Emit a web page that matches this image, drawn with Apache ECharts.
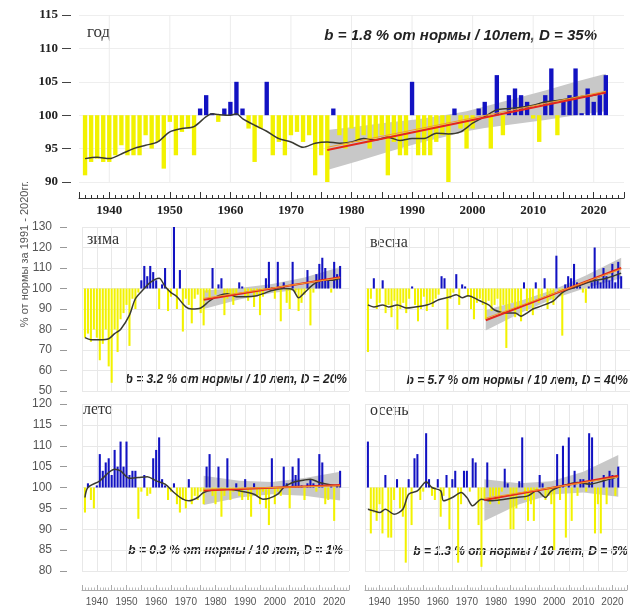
<!DOCTYPE html>
<html><head><meta charset="utf-8">
<script src="https://cdn.jsdelivr.net/npm/echarts@6/dist/echarts.min.js"></script>
<style>html,body{margin:0;padding:0;background:#fff}#c{width:630px;height:612px}</style>
</head><body><div id="c"></div>
<script>
// ---------------- DATA ----------------
const firstYear = 1936, lastYear = 2022;
const years = [];
for (let y = firstYear; y <= lastYear; y++) years.push(y);

// annual precipitation, % of 1991-2020 norm
const annual = [91,93,93.5,93,93,94,95.5,94,94,94,
 97,95,96,92,99,94,97.5,98,94,101,
 103,100.3,99,101,102,105,101,98,93,98,
 105,94,96,94,97,97.5,96,97,91,94,
 90,101,97,95,98,96,97,95,96.5,97,
 91,96,94,94,105,94,94,94,96,97,
 90,101,98,95,98,101,102,95,106,97,
 103,104,103,102,99.5,96,103,107,97,102,
 103,107,100.3,104,102,103,106];
const winter = [76,78,74,80,76,65,73,80,62,54,
 80,69,85,88,92,72,95,90,98,104,
 111,106,111,108,104,90,102,110,89,96,
 130,90,109,79,95,92,83,95,97,88,
 82,98,95,110,97,102,105,87,95,97,
 92,96,103,101,96,94,98,91,97,87,
 96,105,113,100.5,95,113,84,103,93,90,
 113,98,89,93,97,109,82,98,107,112,
 115,110,104,98,113,107,111];
const spring = [69,95,105,90,93,104,88,92,86,94,
 80,90,93,88,95,101,92,84,90,96,
 89,93,91,95,97,106,105,80,95,98,
 107,92,102,101,96,90,85,93,95,92,
 85,94,89,92,95,88,92,71,90,93,
 86,90,84,103,89,92,87,103,93,96,
 105,90,95,92,116,98,77,102,106,105,
 112,103,101,98,93,101,103,120,104,103,
 110,106,104,112,103,113,106];
const summer = [94,101,97,95,100.5,108,104,106,107,103,
 109,105,111,105,111,103,104,104,92.5,99,
 103,98,98.5,107,109,112,102,100.5,97,99,
 101,96,94,97,95,102,96,98,97,99,
 96,105,108,98,96,105,93,98,107,97,
 99,101,98,97,102,97,93,101,98,96,
 99,95,91,107,96,99,98,105,101,95,
 105,103,107,100.5,97,101,102,101,99,108,
 106,96,97,100.5,92,100.5,104];
const autumn = [111,89,94,92,96,89,103,88,88,97,
 102,95,93,82,102,91,107,108,97,99,
 113,102,98,97,102,93,98,103,90,102,
 104,82,96,104,104,99,107,106,91,81,
 97,106,96,98,97,96,99,104.5,101,90,
 90,95,101.5,112,97,92,96,92,99,103,
 101,97,98,96,85,108,97,110,88,112,
 92,104,98,102,102,99,113,112,89,96,
 89,103,96,104,103,98,105];

// smoothed curves [year, value]
const annualSmooth = [[1936,93.5],[1938,93.7],[1940,93.5],[1942,94.2],[1944,95],[1946,95.5],[1948,96],[1950,97.5],[1952,98],[1954,98.3],[1956,99.8],[1957,100.2],[1958,100.1],[1960,100],[1961,100.2],[1962,99.5],[1964,98.5],[1966,97.6],[1968,96.5],[1970,96],[1972,95.2],[1974,95.8],[1976,96],[1978,95.8],[1980,96],[1982,96.5],[1984,96.3],[1986,96.7],[1988,96.2],[1990,96.5],[1992,96.5],[1994,97.3],[1996,97.2],[1998,97.5],[2000,98.8],[2002,99.8],[2004,100.8],[2006,101],[2008,101.2],[2010,101.5],[2012,102],[2014,102.2],[2016,102.5],[2018,102.8],[2020,103],[2022,103.5]];
const winterSmooth = [[1936,76],[1938,75],[1941,75],[1944,75.5],[1946,78],[1948,80],[1951,87],[1953,95],[1956,100],[1958,103],[1961,105],[1963,101],[1965,98],[1967,96],[1970,91],[1972,90],[1975,90.5],[1978,94],[1981,96.5],[1984,97.5],[1987,96],[1990,96],[1994,96.5],[1997,98],[1999,99],[2003,100],[2006,99.5],[2008,95.5],[2010,98],[2013,102],[2016,104],[2019,104],[2022,105]];
const springSmooth = [[1936,92],[1938,91],[1941,92],[1943,91],[1946,92],[1949,90.5],[1952,91],[1956,92],[1958,93],[1960,94.5],[1964,96],[1966,97],[1968,95.5],[1970,96.5],[1974,94],[1977,92],[1979,89.5],[1983,88],[1986,88],[1988,86.5],[1990,88],[1992,90],[1995,91.5],[1999,94],[2002,98],[2004,99.5],[2008,101.5],[2012,103.5],[2017,105],[2022,107.5]];
const summerSmooth = [[1936,97.6],[1937,100],[1941,101.6],[1944,103.6],[1946,104.4],[1948,104],[1951,102.2],[1954,102.4],[1957,102.6],[1960,101.6],[1963,100.8],[1966,98.8],[1969,97.2],[1971,96.8],[1974,97.6],[1976,98.8],[1979,99.4],[1984,99.6],[1988,99.2],[1993,98.4],[1996,97.2],[1998,97.4],[2001,98.4],[2003,100],[2006,101.2],[2010,101.8],[2012,102],[2015,101.2],[2019,100.6],[2022,100.4]];
const autumnSmooth = [[1936,94.8],[1938,94.4],[1940,94],[1942,94.8],[1945,93.6],[1948,94.8],[1950,98.4],[1953,99.2],[1955,100.8],[1956,101.4],[1958,100],[1961,99.2],[1962,96.8],[1965,97.6],[1968,98.8],[1970,97.6],[1972,95.6],[1975,97.2],[1978,96.8],[1983,97.2],[1987,97.6],[1991,98],[1994,99.2],[1997,97.6],[1999,99.2],[2003,100.4],[2008,101.2],[2012,100.8],[2017,101.6],[2022,102.6]];

// linear trends 1976-2022 (red) and companion (orange)
const annualTrend = [[1976,94.8],[2022,103.4]];
const annualTrend2 = [[1976,95.2],[2022,103.6]];
const winterTrend = [[1976,94.5],[2022,105.5]];
const winterTrend2 = [[1976,95.2],[2022,105.2]];
const springTrend = [[1976,84.5],[2022,110]];
const springTrend2 = [[1976,85.5],[2022,109.5]];
const summerTrend = [[1976,99.3],[2022,100.6]];
const summerTrend2 = [[1976,99.6],[2022,100.4]];
const autumnTrend = [[1976,97],[2022,102.8]];
const autumnTrend2 = [[1976,97.4],[2022,102.5]];

// confidence bands
const annualBandYears = [1976,1981,1986,1991,1996,1999,2002,2007,2012,2017,2022];
const annualBandLo = [91.8,93.1,94.5,95.8,96.9,97.6,98.1,98.7,99.3,100.0,100.6];
const annualBandHi = [97.8,98.3,98.9,99.4,100.1,100.6,101.3,102.5,103.7,105.0,106.2];
const seasonBandYears = [1976,1988,1999,2010,2022];
const winterBandLo = [90,94.6,97.8,99.8,100.5];
const winterBandHi = [99,100.2,102.2,105.4,110.5];
const springBandLo = [79.5,88.2,95,100.3,105];
const springBandHi = [89.5,94.2,99.4,106.3,115];
const summerBandLo = [95.8,97.6,98.4,98.0,96.9];
const summerBandHi = [102.8,101.6,101.3,102.3,103.8];
const autumnBandLo = [92,96,98.3,98.8,97.8];
const autumnBandHi = [102,101,101.5,103.8,107.8];

const decadeLines = [1940,1950,1960,1970,1980,1990,2000,2010,2020];

const panelNames = ['год','зима','весна','лето','осень'];
const trendTexts = ['b = 1.8 % от нормы / 10лет, D = 35%',
 'b = 3.2 % от нормы / 10 лет, D = 20%',
 'b = 5.7 % от нормы / 10 лет, D = 40%',
 'b = 0.3 % от нормы / 10 лет, D = 1%',
 'b = 1.3 % от нормы / 10 лет, D = 6%'];
const yTitle = '% от нормы за 1991 - 2020гг.';

// ---------------- CHART ----------------
const BLUE = '#1212c2', YELLOW = '#f2f200', BAND = '#c8c8c8';
const chart = echarts.init(document.getElementById('c'), null, {renderer:'canvas'});

const grids = [
  {left:79, top:15, width:545, height:167},
  {left:82, top:227, width:267, height:164},
  {left:365, top:227, width:267, height:164},
  {left:82, top:404, width:267, height:167},
  {left:365, top:404, width:267, height:167}
];

function decadeFmt(v){ return v % 10 === 0 ? String(v) : ''; }

const xAxes = [
  {gridIndex:0, type:'value', min:1935, max:2025, interval:5, offset:16,
   axisLine:{lineStyle:{color:'#333', width:1}},
   axisTick:{inside:true, length:6, lineStyle:{color:'#333'}},
   minorTick:{show:true, splitNumber:5, length:3, lineStyle:{color:'#333'}},
   axisLabel:{formatter:decadeFmt, fontFamily:'Liberation Serif', fontWeight:'bold', fontSize:13, color:'#222', margin:6},
   splitLine:{show:false}}
];
for (let i = 1; i <= 4; i++) {
  const bottom = i >= 3;
  xAxes.push({gridIndex:i, type:'value', min:1935, max:2025, interval:5, offset:19,
    axisLine:{show:bottom, lineStyle:{color:'#aaa'}},
    axisTick:{show:bottom, inside:true, length:5, lineStyle:{color:'#aaa'}},
    minorTick:{show:bottom, splitNumber:5, length:2.5, lineStyle:{color:'#bbb'}},
    axisLabel:{show:bottom, formatter:decadeFmt, fontFamily:'Liberation Sans', fontSize:10, color:'#555', margin:7},
    splitLine:{show:true, lineStyle:{color:'#e8e8e8'}}});
}
const yAxes = [
  {gridIndex:0, type:'value', min:90, max:115, interval:5, offset:8,
   axisLine:{show:false}, axisTick:{show:true, length:9, lineStyle:{color:'#444'}},
   axisLabel:{fontFamily:'Liberation Serif', fontWeight:'bold', fontSize:13, color:'#222', margin:13},
   splitLine:{show:true, lineStyle:{color:'#eeeeee'}}}
];
const yScales = [null, [50,130,10], [50,130,10], [80,120,5], [80,120,5]];
for (let i = 1; i <= 4; i++) {
  const left = (i === 1 || i === 3);
  yAxes.push({gridIndex:i, type:'value', min:yScales[i][0], max:yScales[i][1], interval:yScales[i][2], offset:15,
    axisLine:{show:false}, axisTick:{show:left, length:7, lineStyle:{color:'#999'}},
    axisLabel:{show:left, fontFamily:'Liberation Sans', fontSize:12, color:'#555', margin:15},
    splitLine:{show:true, lineStyle:{color:'#e8e8e8'}}});
}

function barSeries(idx, vals, frac) {
  return {type:'custom', xAxisIndex:idx, yAxisIndex:idx, z:2, clip:true, silent:true,
    data: years.map((y,i)=>[y, vals[i]]), encode:{x:0, y:1},
    renderItem: function(params, api){
      const x = api.value(0), v = api.value(1);
      const a = api.coord([x,100]), b = api.coord([x,v]);
      const w = api.size([1,0])[0]*frac;
      return {type:'rect', shape:{x:a[0]-w/2, y:Math.min(a[1],b[1]), width:w, height:Math.max(Math.abs(a[1]-b[1]),0.6)},
        style:{fill: v >= 100 ? BLUE : YELLOW}};
    }};
}
function bandSeries(idx, yrs, lo, hi) {
  return {type:'custom', xAxisIndex:idx, yAxisIndex:idx, z:1, clip:true, silent:true,
    data: yrs.map((y,i)=>[y, lo[i], hi[i]]), encode:{x:0, y:[1,2]},
    renderItem: function(params, api){
      if (params.dataIndex !== 0) return null;
      const pts = [];
      for (let i = 0; i < yrs.length; i++) pts.push(api.coord([yrs[i], hi[i]]));
      for (let i = yrs.length-1; i >= 0; i--) pts.push(api.coord([yrs[i], lo[i]]));
      return {type:'polygon', shape:{points:pts}, style:{fill:BAND}};
    }};
}
function decadeSeries(idx, marks, ymin, ymax) {
  return {type:'custom', xAxisIndex:idx, yAxisIndex:idx, z:0, silent:true,
    data: marks.map(m=>[m, ymin]), encode:{x:0, y:1},
    renderItem: function(params, api){
      const a = api.coord([api.value(0), ymax]), b = api.coord([api.value(0), ymin]);
      return {type:'line', shape:{x1:a[0], y1:a[1], x2:b[0], y2:b[1]}, style:{stroke:'#ececec', lineWidth:1}};
    }};
}
function lineSeries(idx, data, color, width, z, smooth) {
  return {type:'line', xAxisIndex:idx, yAxisIndex:idx, data:data, symbol:'none', silent:true, z:z,
    smooth: smooth || false, lineStyle:{color:color, width:width}};
}

const panels = [
  [annual, annualSmooth, annualTrend, annualTrend2, annualBandYears, annualBandLo, annualBandHi, 0.72],
  [winter, winterSmooth, winterTrend, winterTrend2, seasonBandYears, winterBandLo, winterBandHi, 0.7],
  [spring, springSmooth, springTrend, springTrend2, seasonBandYears, springBandLo, springBandHi, 0.7],
  [summer, summerSmooth, summerTrend, summerTrend2, seasonBandYears, summerBandLo, summerBandHi, 0.7],
  [autumn, autumnSmooth, autumnTrend, autumnTrend2, seasonBandYears, autumnBandLo, autumnBandHi, 0.7]
];
const series = [decadeSeries(0, decadeLines, 90, 115)];
panels.forEach((p, i) => {
  series.push(bandSeries(i, p[4], p[5], p[6]));
  series.push(barSeries(i, p[0], p[7]));
  series.push(lineSeries(i, p[1], '#3a3a30', 1.5, 3, 0.3));
  series.push(lineSeries(i, p[2], '#e4261c', 2, 4));
  series.push(lineSeries(i, p[3], '#f0a030', 1, 5));
});

const nameFont = '16px "Liberation Serif"';
const bFontTop = 'italic bold 15px "Liberation Sans"';
const bFont = 'italic bold 12px "Liberation Sans"';
const graphics = [
  {type:'text', x:87, y:33, style:{text:panelNames[0], font:'17px "Liberation Serif"', fill:'#333', textVerticalAlign:'middle'}},
  {type:'text', x:597, y:36, style:{text:trendTexts[0], font:bFontTop, fill:'#222', textAlign:'right', textVerticalAlign:'middle'}},
  {type:'text', x:87, y:240, style:{text:panelNames[1], font:nameFont, fill:'#333', textVerticalAlign:'middle'}},
  {type:'text', x:347, y:380, style:{text:trendTexts[1], font:bFont, fill:'#222', textAlign:'right', textVerticalAlign:'middle'}},
  {type:'text', x:370, y:243, style:{text:panelNames[2], font:nameFont, fill:'#333', textVerticalAlign:'middle'}},
  {type:'text', x:628, y:381, style:{text:trendTexts[2], font:bFont, fill:'#222', textAlign:'right', textVerticalAlign:'middle'}},
  {type:'text', x:83, y:410, style:{text:panelNames[3], font:nameFont, fill:'#333', textVerticalAlign:'middle'}},
  {type:'text', x:343, y:551, style:{text:trendTexts[3], font:bFont, fill:'#222', textAlign:'right', textVerticalAlign:'middle'}},
  {type:'text', x:370, y:411, style:{text:panelNames[4], font:nameFont, fill:'#333', textVerticalAlign:'middle'}},
  {type:'text', x:628, y:552, style:{text:trendTexts[4], font:bFont, fill:'#222', textAlign:'right', textVerticalAlign:'middle'}},
  {type:'text', x:25, y:254, rotation:Math.PI/2, style:{text:yTitle, font:'11px "Liberation Sans"', fill:'#555', textAlign:'center', textVerticalAlign:'middle'}}
];

chart.setOption({
  animation:false,
  backgroundColor:'#ffffff',
  grid:grids, xAxis:xAxes, yAxis:yAxes, series:series, graphic:graphics
});
</script></body></html>
